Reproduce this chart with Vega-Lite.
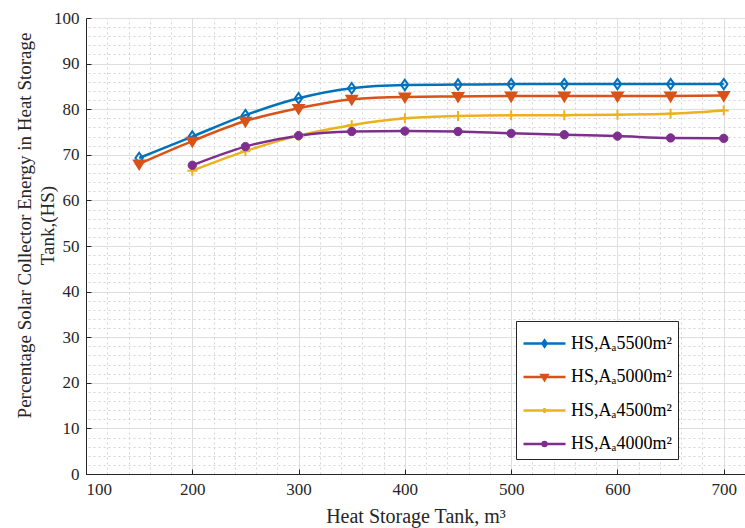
{
  "$schema": "https://vega.github.io/schema/vega-lite/v6.json",
  "width": 659,
  "height": 456,
  "autosize": {"type": "none"},
  "padding": {"left": 86, "top": 18, "right": 0, "bottom": 54},
  "background": "white",
  "config": {
    "view": {"stroke": "#262626", "strokeWidth": 1},
    "font": "Liberation Serif",
    "axis": {
      "labelFont": "Liberation Serif",
      "titleFont": "Liberation Serif",
      "labelColor": "#262626",
      "titleColor": "#262626",
      "titleFontWeight": "normal",
      "labelFontSize": 17,
      "titleFontSize": 19,
      "domainColor": "#262626",
      "tickColor": "#262626"
    }
  },
  "data": {
    "values": [
      {"x": 150, "v": 69.3, "s": "HS,Aₐ5500m²"},
      {"x": 200, "v": 74.0, "s": "HS,Aₐ5500m²"},
      {"x": 250, "v": 78.7, "s": "HS,Aₐ5500m²"},
      {"x": 300, "v": 82.4, "s": "HS,Aₐ5500m²"},
      {"x": 350, "v": 84.6, "s": "HS,Aₐ5500m²"},
      {"x": 400, "v": 85.3, "s": "HS,Aₐ5500m²"},
      {"x": 450, "v": 85.4, "s": "HS,Aₐ5500m²"},
      {"x": 500, "v": 85.5, "s": "HS,Aₐ5500m²"},
      {"x": 550, "v": 85.5, "s": "HS,Aₐ5500m²"},
      {"x": 600, "v": 85.5, "s": "HS,Aₐ5500m²"},
      {"x": 650, "v": 85.5, "s": "HS,Aₐ5500m²"},
      {"x": 700, "v": 85.5, "s": "HS,Aₐ5500m²"},
      {"x": 150, "v": 68.0, "s": "HS,Aₐ5000m²"},
      {"x": 200, "v": 73.0, "s": "HS,Aₐ5000m²"},
      {"x": 250, "v": 77.4, "s": "HS,Aₐ5000m²"},
      {"x": 300, "v": 80.2, "s": "HS,Aₐ5000m²"},
      {"x": 350, "v": 82.2, "s": "HS,Aₐ5000m²"},
      {"x": 400, "v": 82.7, "s": "HS,Aₐ5000m²"},
      {"x": 450, "v": 82.8, "s": "HS,Aₐ5000m²"},
      {"x": 500, "v": 82.9, "s": "HS,Aₐ5000m²"},
      {"x": 550, "v": 82.9, "s": "HS,Aₐ5000m²"},
      {"x": 600, "v": 82.9, "s": "HS,Aₐ5000m²"},
      {"x": 650, "v": 82.9, "s": "HS,Aₐ5000m²"},
      {"x": 700, "v": 83.0, "s": "HS,Aₐ5000m²"},
      {"x": 200, "v": 66.5, "s": "HS,Aₐ4500m²"},
      {"x": 250, "v": 70.8, "s": "HS,Aₐ4500m²"},
      {"x": 300, "v": 74.2, "s": "HS,Aₐ4500m²"},
      {"x": 350, "v": 76.5, "s": "HS,Aₐ4500m²"},
      {"x": 400, "v": 78.0, "s": "HS,Aₐ4500m²"},
      {"x": 450, "v": 78.5, "s": "HS,Aₐ4500m²"},
      {"x": 500, "v": 78.7, "s": "HS,Aₐ4500m²"},
      {"x": 550, "v": 78.7, "s": "HS,Aₐ4500m²"},
      {"x": 600, "v": 78.8, "s": "HS,Aₐ4500m²"},
      {"x": 650, "v": 79.0, "s": "HS,Aₐ4500m²"},
      {"x": 700, "v": 79.7, "s": "HS,Aₐ4500m²"},
      {"x": 200, "v": 67.7, "s": "HS,Aₐ4000m²"},
      {"x": 250, "v": 71.8, "s": "HS,Aₐ4000m²"},
      {"x": 300, "v": 74.2, "s": "HS,Aₐ4000m²"},
      {"x": 350, "v": 75.1, "s": "HS,Aₐ4000m²"},
      {"x": 400, "v": 75.2, "s": "HS,Aₐ4000m²"},
      {"x": 450, "v": 75.1, "s": "HS,Aₐ4000m²"},
      {"x": 500, "v": 74.7, "s": "HS,Aₐ4000m²"},
      {"x": 550, "v": 74.4, "s": "HS,Aₐ4000m²"},
      {"x": 600, "v": 74.1, "s": "HS,Aₐ4000m²"},
      {"x": 650, "v": 73.7, "s": "HS,Aₐ4000m²"},
      {"x": 700, "v": 73.6, "s": "HS,Aₐ4000m²"}
    ]
  },
  "resolve": {"axis": {"x": "independent", "y": "independent"}},
  "layer": [
    {
      "mark": {"type": "line", "opacity": 0},
      "encoding": {
        "x": {"field": "x", "type": "quantitative", "scale": {"domain": [100, 720], "nice": false, "zero": false},
          "axis": {"orient": "top", "values": [120,140,160,180,200,220,240,260,280,300,320,340,360,380,400,420,440,460,480,500,520,540,560,580,600,620,640,660,680,700,720],
            "labels": false, "ticks": false, "domain": false, "title": null, "grid": true, "gridColor": "#d4d4d4", "gridDash": [2, 3], "gridWidth": 1}},
        "y": {"field": "v", "type": "quantitative", "scale": {"domain": [0, 100], "nice": false},
          "axis": {"orient": "right", "values": [2,4,6,8,12,14,16,18,22,24,26,28,32,34,36,38,42,44,46,48,52,54,56,58,62,64,66,68,72,74,76,78,82,84,86,88,92,94,96,98],
            "labels": false, "ticks": false, "domain": false, "title": null, "grid": true, "gridColor": "#d4d4d4", "gridDash": [2, 3], "gridWidth": 1}},
        "detail": {"field": "s"}
      }
    },
    {
      "mark": {"type": "line", "interpolate": "monotone", "strokeWidth": 2.5},
      "encoding": {
        "x": {"field": "x", "type": "quantitative", "scale": {"domain": [100, 720], "nice": false, "zero": false},
          "axis": {"orient": "bottom", "values": [100,200,300,400,500,600,700], "grid": true, "gridColor": "#dedede",
            "tickSize": -5, "labelPadding": 12, "title": "Heat Storage Tank, m³", "titleFontSize": 20, "titleY": 48, "titleBaseline": "alphabetic"}},
        "y": {"field": "v", "type": "quantitative", "scale": {"domain": [0, 100], "nice": false},
          "axis": {"orient": "left", "values": [0,10,20,30,40,50,60,70,80,90,100], "grid": true, "gridColor": "#dedede",
            "tickSize": -5, "labelPadding": 12,
            "title": ["Percentage Solar Collector Energy in Heat Storage", "Tank,(HS)"],
            "titleX": -62, "titleY": 207, "titleBaseline": "middle", "titleLineHeight": 23}},
        "color": {"field": "s", "type": "nominal",
          "scale": {"domain": ["HS,Aₐ5500m²", "HS,Aₐ5000m²", "HS,Aₐ4500m²", "HS,Aₐ4000m²"],
                    "range": ["#0072BD", "#D95319", "#EDB120", "#7E2F8E"]},
          "legend": {
            "title": null, "orient": "none", "legendX": 430, "legendY": 303,
            "fillColor": "white", "strokeColor": "#262626", "padding": 6,
            "labelFont": "Liberation Serif", "labelFontSize": 18, "labelColor": "#000000",
            "symbolSize": 900, "symbolStrokeWidth": 2.5, "rowPadding": 7.5, "labelOffset": 10, "symbolOffset": 6,
            "encode": {
              "symbols": {"update": {
                "shape": {"signal": "datum.index === 0 ? 'M-1.4,0H1.4M0,-0.2L0.14,0L0,0.2L-0.14,0Z' : datum.index === 1 ? 'M-1.4,0H1.4M-0.2,-0.13L0.2,-0.13L0,0.21Z' : datum.index === 2 ? 'M-1.4,0H1.4M0,-0.17V0.17' : 'M-1.4,0H1.4M-0.13,0A0.13,0.13,0,1,0,0.13,0A0.13,0.13,0,1,0,-0.13,0Z'"},
                "fill": {"signal": "datum.index === 1 ? '#D95319' : datum.index === 3 ? '#7E2F8E' : 'transparent'"}
              }}
            }
          }}
      }
    },
    {
      "transform": [{"filter": "datum.s === 'HS,Aₐ5500m²'"}],
      "mark": {"type": "point", "shape": "M0,-1L0.7,0L0,1L-0.7,0Z", "stroke": "#0072BD", "fill": "transparent", "strokeWidth": 2, "size": 110, "opacity": 1},
      "encoding": {
        "x": {"field": "x", "type": "quantitative", "scale": {"domain": [100, 720], "nice": false, "zero": false}, "axis": null},
        "y": {"field": "v", "type": "quantitative", "scale": {"domain": [0, 100], "nice": false}, "axis": null}
      }
    },
    {
      "transform": [{"filter": "datum.s === 'HS,Aₐ5000m²'"}],
      "mark": {"type": "point", "shape": "M-1,-0.65L1,-0.65L0,1Z", "stroke": "#D95319", "fill": "#D95319", "strokeWidth": 2, "size": 110, "opacity": 1},
      "encoding": {
        "x": {"field": "x", "type": "quantitative", "scale": {"domain": [100, 720], "nice": false, "zero": false}, "axis": null},
        "y": {"field": "v", "type": "quantitative", "scale": {"domain": [0, 100], "nice": false}, "axis": null}
      }
    },
    {
      "transform": [{"filter": "datum.s === 'HS,Aₐ4500m²'"}],
      "mark": {"type": "point", "shape": "M-1,0H1M0,-1V1", "stroke": "#EDB120", "fill": "transparent", "strokeWidth": 2, "size": 100, "opacity": 1},
      "encoding": {
        "x": {"field": "x", "type": "quantitative", "scale": {"domain": [100, 720], "nice": false, "zero": false}, "axis": null},
        "y": {"field": "v", "type": "quantitative", "scale": {"domain": [0, 100], "nice": false}, "axis": null}
      }
    },
    {
      "transform": [{"filter": "datum.s === 'HS,Aₐ4000m²'"}],
      "mark": {"type": "point", "shape": "circle", "stroke": "#7E2F8E", "fill": "#7E2F8E", "strokeWidth": 1, "size": 70, "opacity": 1},
      "encoding": {
        "x": {"field": "x", "type": "quantitative", "scale": {"domain": [100, 720], "nice": false, "zero": false}, "axis": null},
        "y": {"field": "v", "type": "quantitative", "scale": {"domain": [0, 100], "nice": false}, "axis": null}
      }
    }
  ]
}
